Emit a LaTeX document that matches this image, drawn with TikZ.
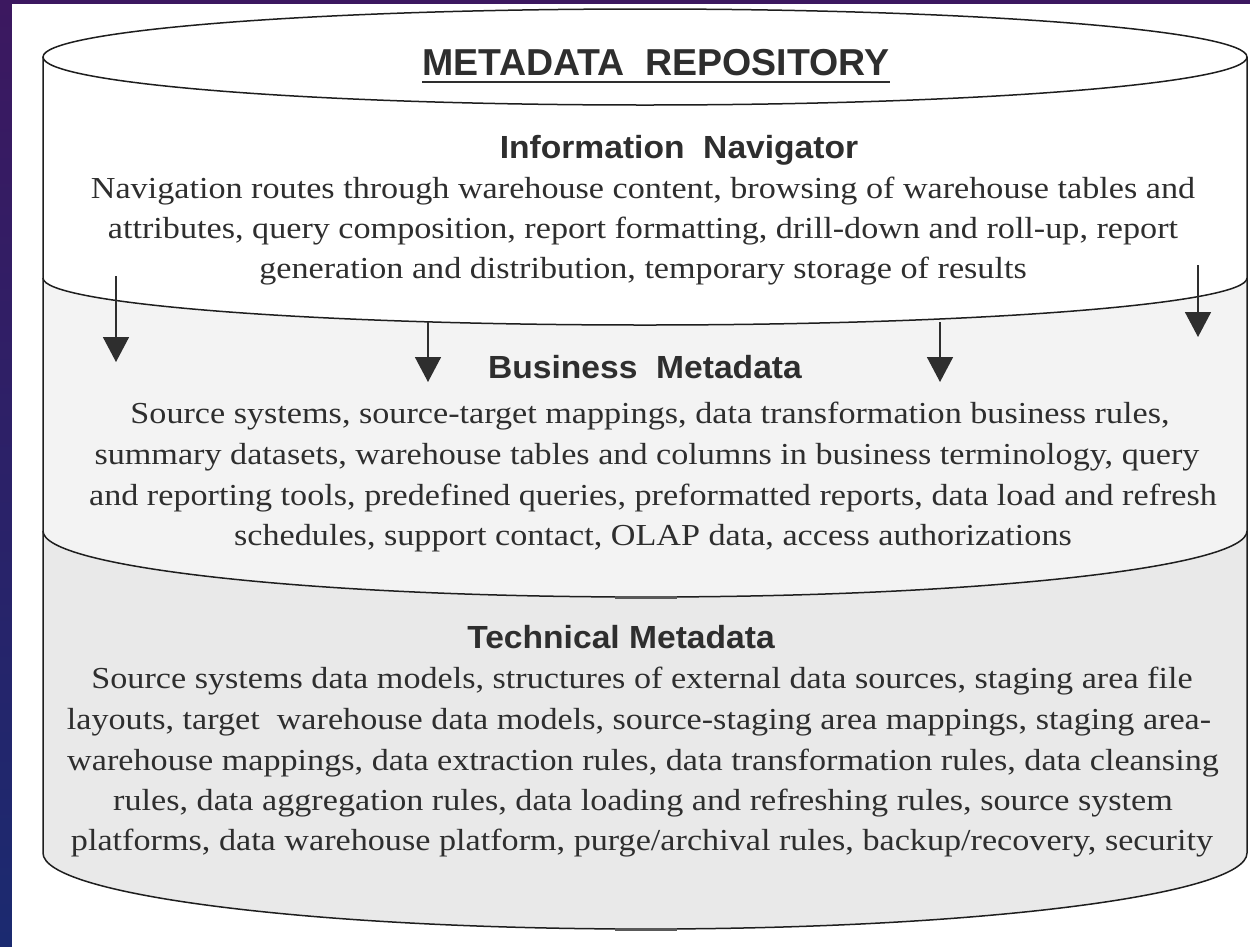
\documentclass[tikz,border=0pt]{standalone}
\usepackage{fontspec}
\usetikzlibrary{arrows.meta}
\newfontfamily\bodyface[FakeStretch=1.12]{Liberation Serif}
\newfontfamily\headface[FakeStretch=1.05]{Liberation Sans}
\newfontfamily\titleface{Liberation Sans}
\definecolor{txt}{HTML}{2E2E2E}
\definecolor{outline}{HTML}{1E1E1E}
\definecolor{bizfill}{HTML}{F3F3F3}
\definecolor{techfill}{HTML}{E9E9E9}
\definecolor{bgtop}{RGB}{60,24,96}
\definecolor{bgbot}{RGB}{27,42,112}
\tikzset{
  bodyline/.style={font=\bodyface\fontsize{30.5}{40}\selectfont, text=txt, anchor=base, inner sep=0pt},
  headline/.style={font=\headface\bfseries\fontsize{32}{38}\selectfont, text=txt, anchor=base, inner sep=0pt},
  titleline/.style={font=\titleface\bfseries\fontsize{37.5}{44}\selectfont, text=txt, anchor=base, inner sep=0pt},
  cyl/.style={draw=outline, line width=1.5pt},
  downarrow/.style={draw=txt, line width=1.6pt, -{Triangle[width=26pt,length=25pt]}, fill=txt},
}
\begin{document}
\begin{tikzpicture}[x=1pt,y=-1pt]
\useasboundingbox (0,0) rectangle (1250,946);
% background
\shade[top color=bgtop, bottom color=bgbot] (0,0) rectangle (1250,946);
\fill[white] (12,4) rectangle (1260,956);

% region fills
\fill[bizfill] (43,278) arc[start angle=180, end angle=360, x radius=602pt, y radius=47pt]
  -- (1247,853) arc[start angle=0, end angle=-180, x radius=602pt, y radius=76pt] -- cycle;
\fill[techfill] (43,531) arc[start angle=180, end angle=360, x radius=602pt, y radius=66pt]
  -- (1247,853) arc[start angle=0, end angle=-180, x radius=602pt, y radius=76pt] -- cycle;

% outline
\draw[cyl] (645,57) ellipse [x radius=602pt, y radius=48pt];
\draw[cyl] (43,57) -- (43,853) arc[start angle=180, end angle=360, x radius=602pt, y radius=76pt] -- (1247,57);
\draw[cyl] (43,278) arc[start angle=180, end angle=360, x radius=602pt, y radius=47pt];
\draw[cyl] (43,531) arc[start angle=180, end angle=360, x radius=602pt, y radius=66pt];
\draw[line width=3pt, draw=black!65] (615,597) -- (677,597);
\draw[line width=3pt, draw=black!65] (615,929) -- (677,929);

% arrows
\coordinate (a1s) at (116,276); \coordinate (a1e) at (116,362);
\coordinate (a2s) at (428,322); \coordinate (a2e) at (428,382);
\coordinate (a3s) at (940,322); \coordinate (a3e) at (940,382);
\coordinate (a4s) at (1198,265); \coordinate (a4e) at (1198,337);
\draw[downarrow] (a1s) -- (a1e);
\draw[downarrow] (a2s) -- (a2e);
\draw[downarrow] (a3s) -- (a3e);
\draw[downarrow] (a4s) -- (a4e);

% title
\node[titleline] (title) at (656,75) {METADATA\ \ REPOSITORY};
\draw[line width=2.5pt, draw=txt] ([yshift=-7pt]title.base west) -- ([yshift=-7pt]title.base east);

% information navigator
\node[headline] (inh) at (679,158) {Information\ \ Navigator};
\node[bodyline] (in1) at (643,198) {Navigation routes through warehouse content, browsing of warehouse tables and};
\node[bodyline] (in2) at (643,238) {attributes, query composition, report formatting, drill-down and roll-up, report};
\node[bodyline] (in3) at (643,278) {generation and distribution, temporary storage of results};

% business metadata
\node[headline] (bmh) at (645,378) {Business\ \ Metadata};
\node[bodyline] (bm1) at (650,423) {Source systems, source-target mappings, data transformation business rules,};
\node[bodyline] (bm2) at (647,464) {summary datasets, warehouse tables and columns in business terminology, query};
\node[bodyline] (bm3) at (653,505) {and reporting tools, predefined queries, preformatted reports, data load and refresh};
\node[bodyline] (bm4) at (653,545) {schedules, support contact, OLAP data, access authorizations};

% technical metadata
\node[headline] (tmh) at (621,648) {Technical Metadata};
\node[bodyline] (tm1) at (642,688) {Source systems data models, structures of external data sources, staging area file};
\node[bodyline] (tm2) at (639,729) {layouts, target\ \ warehouse data models, source-staging area mappings, staging area-};
\node[bodyline] (tm3) at (643,770) {warehouse mappings, data extraction rules, data transformation rules, data cleansing};
\node[bodyline] (tm4) at (643,810) {rules, data aggregation rules, data loading and refreshing rules, source system};
\node[bodyline] (tm5) at (642,850) {platforms, data warehouse platform, purge/archival rules, backup/recovery, security};
\end{tikzpicture}
\end{document}
